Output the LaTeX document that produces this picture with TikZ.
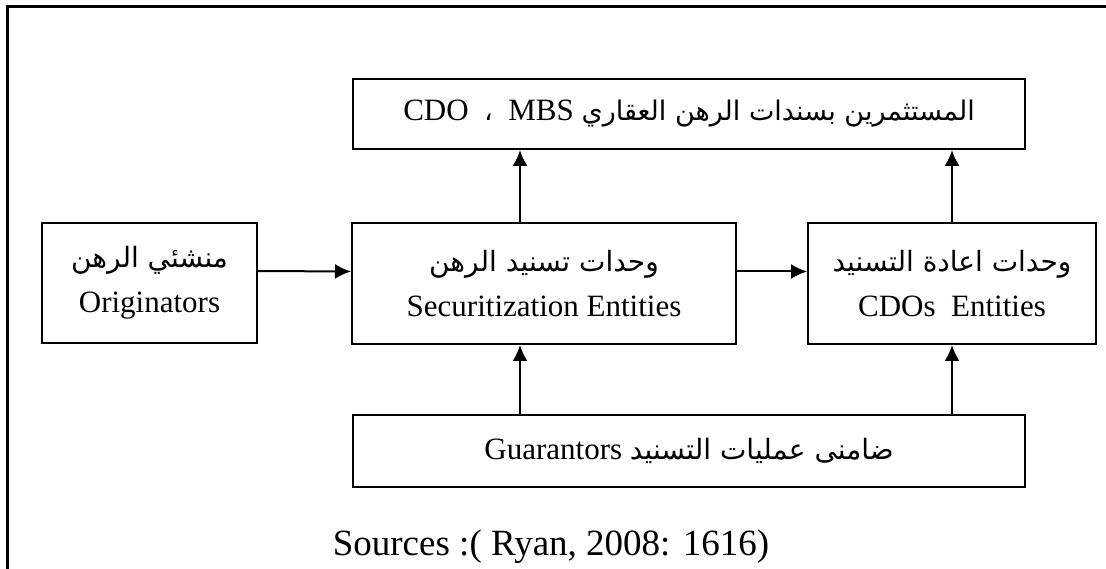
\documentclass[tikz,border=0pt]{standalone}
\usepackage{fontspec}
\setmainfont{Liberation Serif}
\newfontfamily\arabicfont[Script=Arabic]{DejaVu Sans}
\TeXXeTstate=1
\usetikzlibrary{arrows.meta}

\begin{document}
\begin{tikzpicture}[x=1pt, y=-1pt, >={Latex[length=16pt, width=15pt]},
  box/.style={draw, line width=2pt, align=center, inner sep=0pt,
    font=\fontsize{31}{45}\selectfont},
  flow/.style={line width=2pt, ->}]
  \useasboundingbox (0,0) rectangle (1106,569);
  \draw [line width=3pt] (7,575) -- (7,7) -- (1112,7);
  \node[box, minimum width=672pt, minimum height=70pt](investors) at (689,114)
    {\beginR{\arabicfont\fontsize{27}{45}\selectfont المستثمرين بسندات الرهن العقاري}\ {MBS}\ \ {\arabicfont\fontsize{27}{45}\selectfont ،}\ \ {CDO}\endR};
  \node[box, minimum width=215pt, minimum height=120pt](originators) at (149.5,283)
    {{\arabicfont\fontsize{28}{45}\selectfont\beginR منشئي الرهن\endR}\\ Originators};
  \node[box, minimum width=384pt, minimum height=121pt](securitization) at (544,283.5)
    {{\arabicfont\fontsize{28}{45}\selectfont\beginR وحدات تسنيد الرهن\endR}\\ Securitization Entities};
  \node[box, minimum width=288pt, minimum height=121pt](cdos) at (952,283.5)
    {{\arabicfont\fontsize{28}{45}\selectfont\beginR وحدات اعادة التسنيد\endR}\\ CDOs\ \ Entities};
  \node[box, minimum width=672pt, minimum height=72pt](guarantors) at (689,451)
    {\beginR{\arabicfont\fontsize{28}{45}\selectfont ضامنى عمليات التسنيد}\ Guarantors\endR};
  \node[font=\fontsize{37}{40}\selectfont](source) at (551,547) {Sources :( Ryan, 2008: 1616)};
  % arrows
  \draw [flow] ([yshift=12pt]originators.east) -- ([yshift=12pt]securitization.west);
  \draw [flow] ([yshift=12pt]securitization.east) -- ([yshift=12pt]cdos.west);
  \draw [flow] ([xshift=-24pt]securitization.north) -- ([xshift=-24pt]securitization.north |- investors.south);
  \draw [flow] (cdos.north) -- (cdos.north |- investors.south);
  \draw [flow] ([xshift=-24pt]securitization.south |- guarantors.north) -- ([xshift=-24pt]securitization.south);
  \draw [flow] (cdos.south |- guarantors.north) -- (cdos.south);
\end{tikzpicture}
\end{document}
